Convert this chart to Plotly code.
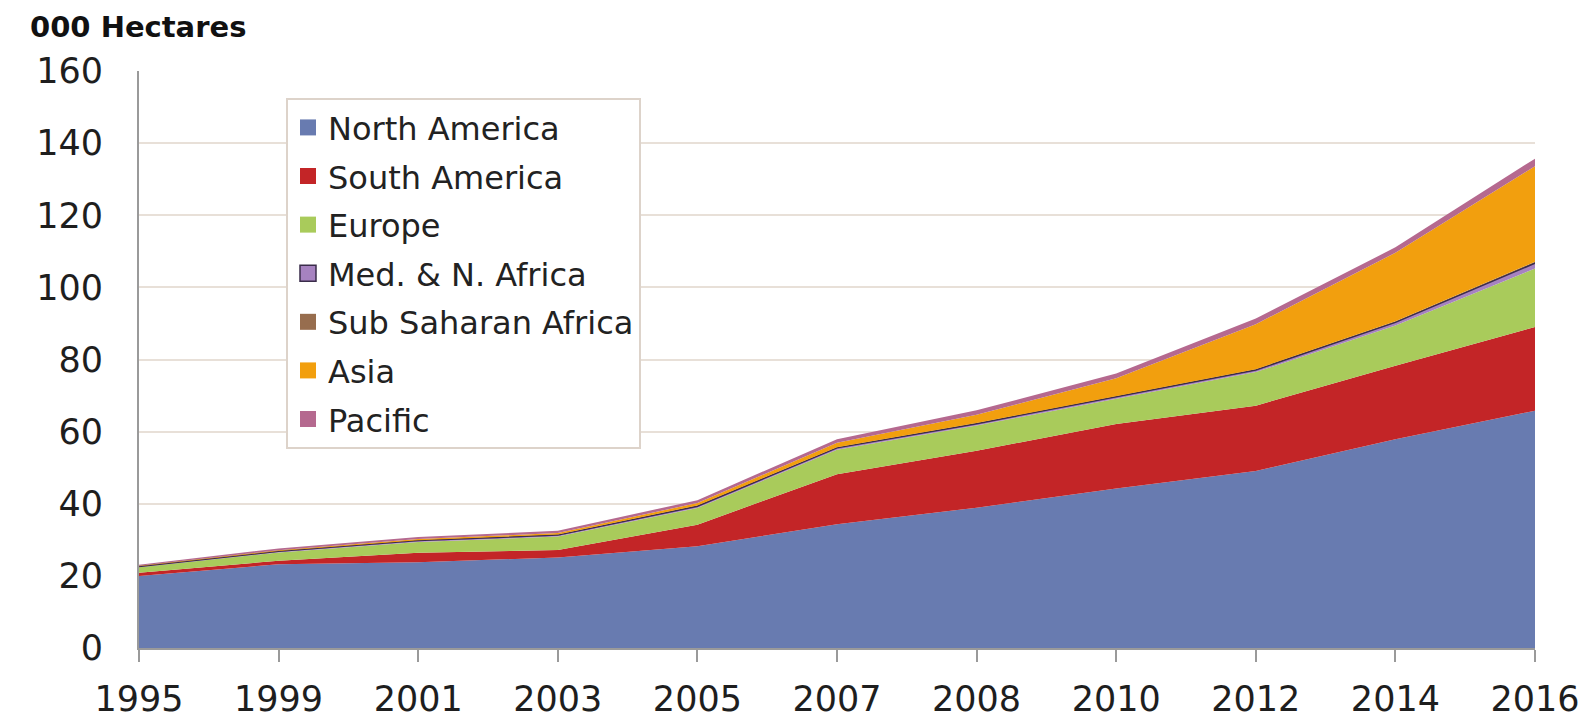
import plotly.graph_objects as go

years = ["1995", "1999", "2001", "2003", "2005", "2007", "2008", "2010", "2012", "2014", "2016"]

north_america = [20.0, 23.2, 23.8, 25.1, 28.2, 34.3, 38.9, 44.2, 49.1, 57.9, 65.8]
south_america = [0.9, 1.0, 2.6, 2.1, 6.0, 13.9, 15.8, 17.9, 18.1, 20.4, 23.2]
europe = [1.5, 2.3, 3.0, 3.7, 4.6, 6.8, 7.0, 7.0, 9.3, 11.1, 16.2]
med_n_africa = [0.2, 0.3, 0.4, 0.4, 0.5, 0.5, 0.5, 0.5, 0.6, 0.9, 1.5]
sub_saharan = [0.1, 0.1, 0.1, 0.2, 0.2, 0.2, 0.2, 0.2, 0.2, 0.3, 0.4]
asia = [0.1, 0.2, 0.3, 0.4, 0.7, 1.2, 2.3, 5.0, 12.5, 19.0, 26.5]
pacific = [0.3, 0.5, 0.6, 0.6, 0.8, 1.0, 1.2, 1.3, 1.6, 1.5, 2.1]

series = [
    ("North America", north_america, "#687bb0", None),
    ("South America", south_america, "#c32527", None),
    ("Europe", europe, "#a9cb5b", None),
    ("Med. & N. Africa", med_n_africa, "#a682c0", "#3a2c4a"),
    ("Sub Saharan Africa", sub_saharan, "#976d4e", None),
    ("Asia", asia, "#f29f0e", None),
    ("Pacific", pacific, "#b5698f", None),
]

fig = go.Figure()

# stacked areas
for name, vals, col, edge in series:
    fig.add_trace(go.Scatter(
        x=years, y=vals, name=name, stackgroup="one", mode="lines",
        line=dict(width=1.5 if edge else 0, color=edge if edge else col),
        fillcolor=col, showlegend=False, legendgroup=name,
    ))

# square swatches for the legend
for name, vals, col, edge in series:
    fig.add_trace(go.Scatter(
        x=[None], y=[None], mode="markers", name=name, legendgroup=name,
        marker=dict(symbol="square", size=16, color=col,
                    line=dict(width=1.5 if edge else 0, color=edge if edge else col)),
    ))

# page body adds an 8px offset, so the figure is 8px smaller than the window
fig.update_layout(
    width=1578, height=714,
    margin=dict(l=131, r=51, t=63, b=74),
    paper_bgcolor="white", plot_bgcolor="white",
    font=dict(family="DejaVu Sans", size=35, color="#1e1e1e"),
    title=dict(text="<b>000 Hectares</b>", x=22 / 1578, xanchor="left",
               y=1 - 19 / 714, yanchor="middle",
               font=dict(family="DejaVu Sans", size=29, color="#111")),
    legend=dict(
        x=0.1053, y=0.953, xanchor="left", yanchor="top",
        bgcolor="white", bordercolor="#ddd3ca", borderwidth=2,
        font=dict(family="DejaVu Sans", size=32, color="#222"),
        traceorder="grouped", tracegroupgap=4,
    ),
    showlegend=True,
)

fig.update_xaxes(
    type="category", range=[0, 10], showgrid=False, automargin=False,
    ticks="outside", ticklen=12, tickcolor="#9a9a9a", tickwidth=2,
    showline=True, linecolor="#9a9a9a", linewidth=2,
    ticklabelstandoff=7,
)
fig.update_yaxes(
    range=[0, 160], dtick=20, showgrid=True, gridcolor="#e8e0d8", gridwidth=2,
    zeroline=False, showline=True, linecolor="#9a9a9a", linewidth=2,
    ticks="outside", ticklen=0, ticklabelstandoff=27, automargin=False,
)

fig.write_html("out.html")
